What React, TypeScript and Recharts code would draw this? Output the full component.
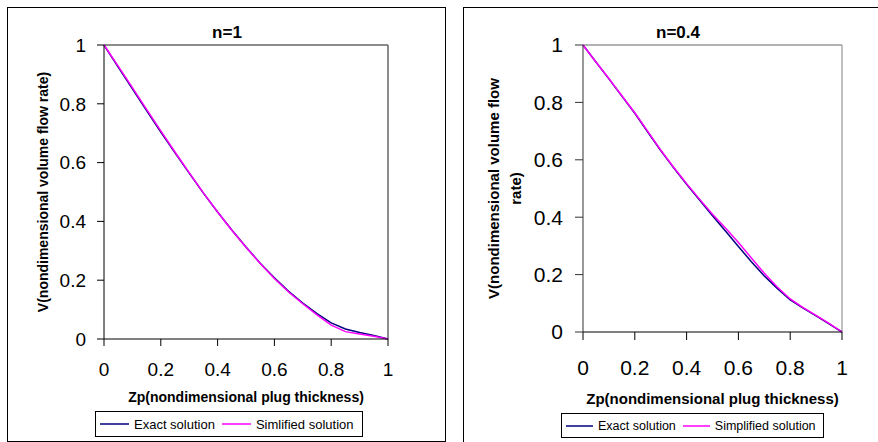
import React from "react";
import { LineChart, Line, XAxis, YAxis, Legend, ReferenceLine } from "recharts";

// n=1 panel
const zp1 = [0, 0.05, 0.1, 0.15, 0.2, 0.25, 0.3, 0.35, 0.4, 0.45, 0.5, 0.55, 0.6, 0.65, 0.7, 0.75, 0.8, 0.85, 0.9, 0.95, 1];
const exact1 = [1, 0.925, 0.851, 0.777, 0.704, 0.633, 0.564, 0.496, 0.432, 0.371, 0.313, 0.258, 0.208, 0.162, 0.122, 0.086, 0.055, 0.034, 0.022, 0.012, 0];
const simplified1 = [1, 0.928, 0.855, 0.781, 0.708, 0.636, 0.566, 0.497, 0.432, 0.37, 0.312, 0.257, 0.206, 0.16, 0.12, 0.082, 0.047, 0.025, 0.017, 0.009, 0];

// n=0.4 panel
const zp04 = [0, 0.05, 0.1, 0.15, 0.2, 0.25, 0.3, 0.35, 0.4, 0.45, 0.5, 0.55, 0.6, 0.65, 0.7, 0.75, 0.8, 0.85, 0.9, 0.95, 1];
const exact04 = [1, 0.941, 0.882, 0.822, 0.762, 0.697, 0.632, 0.572, 0.515, 0.46, 0.405, 0.352, 0.298, 0.245, 0.195, 0.152, 0.112, 0.083, 0.056, 0.028, 0];
const simplified04 = [1, 0.941, 0.883, 0.823, 0.764, 0.699, 0.634, 0.574, 0.517, 0.463, 0.41, 0.362, 0.312, 0.258, 0.205, 0.157, 0.115, 0.085, 0.058, 0.03, 0];

const axisTicks = [0, 0.2, 0.4, 0.6, 0.8, 1];

const FONT = '"Liberation Sans", Arial, Helvetica, sans-serif';
const EXACT_COLOR = "#000080";
const SIMPL_COLOR = "#ff00ff";

const toRows = (zs: number[], ex: number[], si: number[]) =>
  zs.map((z, i) => ({ z, exact: ex[i], simplified: si[i] }));

interface PanelCfg {
  left: number;
  width: number;
  height: number;
  title: string;
  titleX: number;
  titleSize: number;
  data: { z: number; exact: number; simplified: number }[];
  exactName: string;
  simplName: string;
  yLines: string[];
  yLineX: number[];
  labelSize: number;
  xLabelDy: number;
  tickSize: number;
  tickFont: number;
  yTickMargin: number;
  xTickMargin: number;
  yAxisWidth: number;
  marginRight: number;
  marginBottom: number;
  xAxisHeight: number;
  legendLeft: number;
  legendWidth: number;
  legendHeight: number;
  legendFont: number;
  legendSample: number;
  borderTop: string;
  borderRight: string;
  yAxisColor: string;
}

const LegendBox = (props: any) => {
  const { payload, cfg } = props;
  return (
    <div
      style={{
        border: "1px solid #000",
        boxSizing: "border-box",
        height: cfg.legendHeight,
        width: cfg.legendWidth,
        display: "flex",
        alignItems: "center",
        paddingLeft: 4,
        fontFamily: FONT,
        fontSize: cfg.legendFont,
        color: "#000",
        background: "#fff",
      }}
    >
      {(payload || []).map((p: any, i: number) => (
        <div key={i} style={{ display: "flex", alignItems: "center", marginRight: 7 }}>
          <svg width={cfg.legendSample} height={4} style={{ display: "block" }}>
            <line x1={0} y1={2} x2={cfg.legendSample} y2={2} stroke={p.color} strokeWidth={1.5} />
          </svg>
          <span style={{ marginLeft: 5, whiteSpace: "nowrap" }}>{p.value}</span>
        </div>
      ))}
    </div>
  );
};

const Panel = ({ cfg }: { cfg: PanelCfg }) => {
  const yLabel = (props: any) => {
    const vb = props.viewBox;
    const cy = vb.y + vb.height / 2;
    return (
      <g>
        {cfg.yLines.map((t, i) => {
          const cx = vb.x + cfg.yLineX[i];
          return (
            <text
              key={i}
              x={cx}
              y={cy}
              transform={`rotate(-90, ${cx}, ${cy})`}
              textAnchor="middle"
              dominantBaseline="central"
              fontFamily={FONT}
              fontWeight="bold"
              fontSize={cfg.labelSize}
              fill="#000"
            >
              {t}
            </text>
          );
        })}
      </g>
    );
  };

  const xLabel = (props: any) => {
    const vb = props.viewBox;
    return (
      <text
        x={vb.x + vb.width / 2}
        y={vb.y + cfg.xLabelDy}
        textAnchor="middle"
        dominantBaseline="central"
        fontFamily={FONT}
        fontWeight="bold"
        fontSize={cfg.labelSize}
        fill="#000"
      >
        Zp(nondimensional plug thickness)
      </text>
    );
  };

  return (
    <div style={{ position: "absolute", left: cfg.left, top: 7, width: cfg.width, height: cfg.height }}>
      <div
        style={{
          position: "absolute",
          left: 0,
          top: 0,
          width: cfg.width,
          height: cfg.height,
          border: "1px solid #000",
          boxSizing: "border-box",
        }}
      />
      <div
        style={{
          position: "absolute",
          left: cfg.titleX - 100,
          top: 16,
          width: 200,
          textAlign: "center",
          fontFamily: FONT,
          fontWeight: "bold",
          fontSize: cfg.titleSize,
          lineHeight: "20px",
        }}
      >
        {cfg.title}
      </div>
      <div style={{ position: "absolute", left: 0, top: 0 }}>
        <LineChart
          width={cfg.width}
          height={cfg.height}
          data={cfg.data}
          margin={{ top: 38, right: cfg.marginRight, left: 0, bottom: cfg.marginBottom }}
        >
          <XAxis
            dataKey="z"
            type="number"
            domain={[0, 1]}
            ticks={axisTicks}
            interval={0}
            height={cfg.xAxisHeight}
            tickSize={cfg.tickSize}
            tickMargin={cfg.xTickMargin}
            stroke="#000"
            tick={{ fill: "#000", fontSize: cfg.tickFont, fontFamily: FONT }}
            label={xLabel}
          />
          <YAxis
            type="number"
            domain={[0, 1]}
            ticks={axisTicks}
            interval={0}
            width={cfg.yAxisWidth}
            tickSize={cfg.tickSize}
            tickMargin={cfg.yTickMargin}
            stroke={cfg.yAxisColor}
            tick={{ fill: "#000", fontSize: cfg.tickFont, fontFamily: FONT }}
            label={yLabel}
          />
          {/* plot frame: top and right edges */}
          <ReferenceLine y={1} stroke={cfg.borderTop} strokeWidth={1.5} />
          <ReferenceLine x={1} stroke={cfg.borderRight} strokeWidth={1.5} />
          <Legend
            verticalAlign="bottom"
            align="left"
            wrapperStyle={{ left: cfg.legendLeft, bottom: cfg.marginBottom, width: cfg.legendWidth }}
            content={(p: any) => <LegendBox payload={p.payload} cfg={cfg} />}
          />
          <Line
            type="linear"
            dataKey="exact"
            name={cfg.exactName}
            stroke={EXACT_COLOR}
            strokeWidth={1.5}
            dot={false}
            isAnimationActive={false}
          />
          <Line
            type="linear"
            dataKey="simplified"
            name={cfg.simplName}
            stroke={SIMPL_COLOR}
            strokeWidth={1.5}
            dot={false}
            isAnimationActive={false}
          />
        </LineChart>
      </div>
    </div>
  );
};

const leftCfg: PanelCfg = {
  left: 7,
  width: 439,
  height: 435,
  title: "n=1",
  titleX: 220,
  titleSize: 17,
  data: toRows(zp1, exact1, simplified1),
  exactName: "Exact solution",
  simplName: "Simlified solution",
  yLines: ["V(nondimensional volume flow rate)"],
  yLineX: [36],
  labelSize: 14,
  xLabelDy: 58,
  tickSize: 7,
  tickFont: 19,
  yTickMargin: 11,
  xTickMargin: 17,
  yAxisWidth: 97,
  marginRight: 58,
  marginBottom: 5,
  xAxisHeight: 72,
  legendLeft: 88,
  legendWidth: 268,
  legendHeight: 26,
  legendFont: 13,
  legendSample: 29,
  borderTop: "#666",
  borderRight: "#666",
  yAxisColor: "#000",
};

const rightCfg: PanelCfg = {
  left: 463,
  width: 420,
  height: 437,
  title: "n=0.4",
  titleX: 215,
  titleSize: 17,
  data: toRows(zp04, exact04, simplified04),
  exactName: "Exact solution",
  simplName: "Simplified solution",
  yLines: ["V(nondimensional volume flow", "rate)"],
  yLineX: [30, 52],
  labelSize: 15,
  xLabelDy: 66,
  tickSize: 8,
  tickFont: 21,
  yTickMargin: 12,
  xTickMargin: 20,
  yAxisWidth: 120,
  marginRight: 41,
  marginBottom: 6,
  xAxisHeight: 81,
  legendLeft: 98,
  legendWidth: 263,
  legendHeight: 25,
  legendFont: 12.5,
  legendSample: 27,
  borderTop: "#999",
  borderRight: "#aaa",
  yAxisColor: "#333",
};

export default function App() {
  return (
    <div style={{ position: "absolute", left: 0, top: 0, width: 878, height: 442, overflow: "hidden", background: "#fff" }}>
      <Panel cfg={leftCfg} />
      <Panel cfg={rightCfg} />
    </div>
  );
}
